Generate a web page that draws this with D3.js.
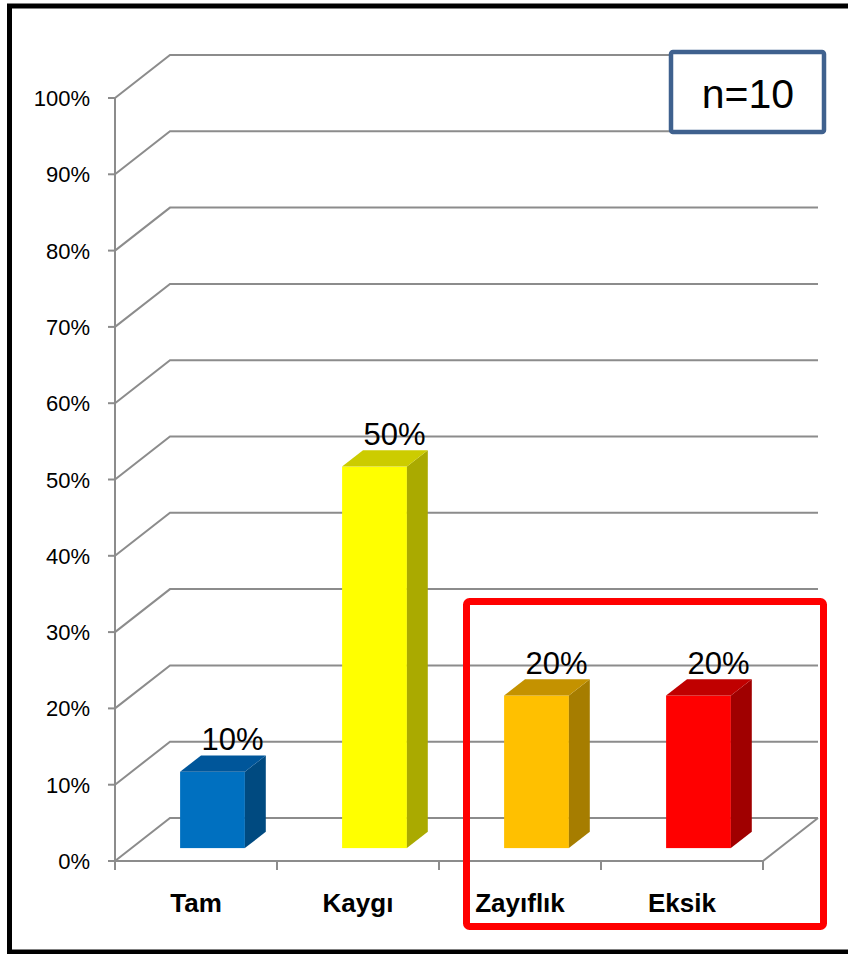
<!DOCTYPE html>
<html>
<head>
<meta charset="utf-8">
<script src="https://cdn.jsdelivr.net/npm/d3@7"></script>
<style>
  body { margin: 0; background: #fff; }
  svg { display: block; }
</style>
</head>
<body>
<svg id="chart" width="848" height="954"></svg>
<script>
// data
var categories = ["Tam", "Kaygı", "Zayıflık", "Eksik"];
var values = [0.10, 0.50, 0.20, 0.20];
var valueLabels = ["10%", "50%", "20%", "20%"];
var yTicks = [0, 0.1, 0.2, 0.3, 0.4, 0.5, 0.6, 0.7, 0.8, 0.9, 1.0];
var faceColors = ["#0070C0", "#FFFF00", "#FFC000", "#FF0000"];
var sideColors = ["#004A80", "#AAAA00", "#A67D00", "#A00000"];
var topColors = ["#00569A", "#CCCC00", "#C49200", "#C00000"];

var svg = d3.select("#chart");

var DX = 55, DY = -43,   // floor depth
    f0 = 0.3,            // bar front position in depth
    bd = 0.38;           // bar depth

var y = d3.scaleLinear().domain([0, 1]).range([861, 98]);
var x = d3.scaleBand().domain(categories).range([115, 763]);
var fmt = d3.format(".0%");

// outer frame
svg.append("rect")
    .attr("x", 9.5).attr("y", 6)
    .attr("width", 850).attr("height", 946)
    .attr("fill", "none").attr("stroke", "#000").attr("stroke-width", 5);

var grid = svg.append("g")
    .attr("fill", "none").attr("stroke", "#8c8c8c").attr("stroke-width", 2);

// back wall gridlines
yTicks.forEach(function(t) {
    grid.append("path")
        .attr("d", "M" + x.range()[0] + "," + y(t) +
                   "L" + (x.range()[0] + DX) + "," + (y(t) + DY) +
                   "L" + (x.range()[1] + DX) + "," + (y(t) + DY));
});

// floor front & right edge
grid.append("path")
    .attr("d", "M" + x.range()[0] + "," + y(0) +
               "L" + x.range()[1] + "," + y(0) +
               "L" + (x.range()[1] + DX) + "," + (y(0) + DY));

// y axis
grid.append("line")
    .attr("x1", x.range()[0]).attr("x2", x.range()[0])
    .attr("y1", y(1)).attr("y2", y(0));
yTicks.forEach(function(t) {
    grid.append("line")
        .attr("x1", x.range()[0] - 7).attr("x2", x.range()[0])
        .attr("y1", y(t)).attr("y2", y(t));
});

svg.append("g").selectAll("text").data(yTicks).join("text")
    .attr("x", 90).attr("y", function(d) { return y(d) + 8; })
    .attr("text-anchor", "end")
    .attr("font-family", "Liberation Sans, Arial, sans-serif")
    .attr("font-size", 22)
    .text(function(d) { return fmt(d); });

// x ticks
var xEdges = categories.map(function(c) { return x(c); }).concat([x.range()[1]]);
xEdges.forEach(function(e) {
    grid.append("line")
        .attr("x1", e).attr("x2", e)
        .attr("y1", y(0)).attr("y2", y(0) + 9);
});

svg.append("g").selectAll("text").data(categories).join("text")
    .attr("x", function(d) { return x(d) + x.bandwidth() / 2; })
    .attr("y", 912)
    .attr("text-anchor", "middle")
    .attr("font-family", "Liberation Sans, Arial, sans-serif")
    .attr("font-weight", "bold")
    .attr("font-size", 26)
    .text(function(d) { return d; });

// bars
var w = x.bandwidth() * 0.4,
    ddx = bd * DX, ddy = bd * DY;
var bars = svg.append("g");
categories.forEach(function(c, i) {
    var fx = x(c) + (x.bandwidth() - w) / 2 + f0 * DX,
        bottom = y(0) + f0 * DY,
        top = y(values[i]) + f0 * DY;
    bars.append("rect")
        .attr("x", fx).attr("y", top)
        .attr("width", w).attr("height", bottom - top)
        .attr("fill", faceColors[i]);
    bars.append("polygon")
        .attr("points", [[fx + w, bottom], [fx + w, top], [fx + w + ddx, top + ddy], [fx + w + ddx, bottom + ddy]].join(" "))
        .attr("fill", sideColors[i]);
    bars.append("polygon")
        .attr("points", [[fx, top], [fx + w, top], [fx + w + ddx, top + ddy], [fx + ddx, top + ddy]].join(" "))
        .attr("fill", topColors[i]);
    bars.append("text")
        .attr("x", fx + w / 2 + 20)
        .attr("y", top + ddy - 5)
        .attr("text-anchor", "middle")
        .attr("font-family", "Liberation Sans, Arial, sans-serif")
        .attr("font-size", 31)
        .text(valueLabels[i]);
});

// n box
svg.append("rect")
    .attr("x", 671).attr("y", 52)
    .attr("width", 153).attr("height", 80)
    .attr("rx", 2)
    .attr("fill", "#fff").attr("stroke", "#3F618E").attr("stroke-width", 4.5);
svg.append("text")
    .attr("x", 748).attr("y", 108)
    .attr("text-anchor", "middle")
    .attr("font-family", "Liberation Sans, Arial, sans-serif")
    .attr("font-size", 41)
    .text("n=10");

// highlight box
svg.append("rect")
    .attr("x", 466.5).attr("y", 601.5)
    .attr("width", 357).attr("height", 325)
    .attr("rx", 3)
    .attr("fill", "none").attr("stroke", "#FF0000").attr("stroke-width", 7);
</script>
</body>
</html>
